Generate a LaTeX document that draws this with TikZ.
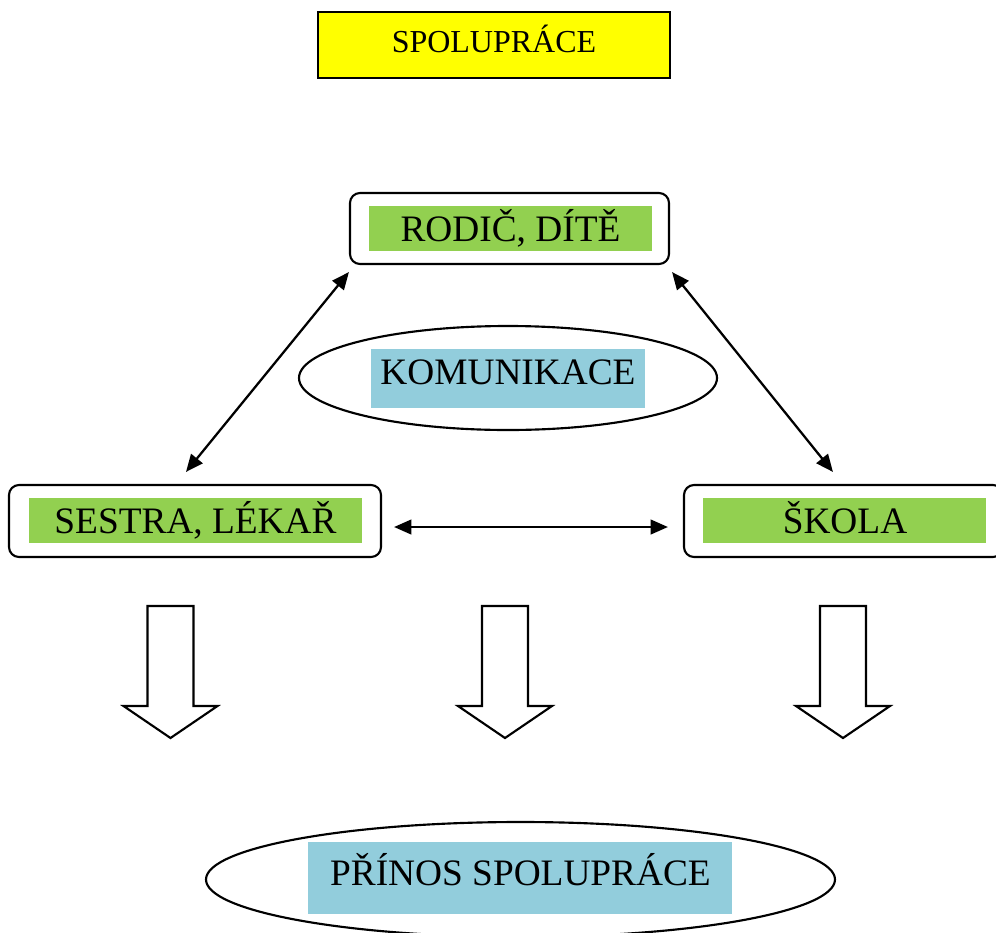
\documentclass[tikz,border=0pt]{standalone}
\usepackage{fontspec}
\setmainfont{Liberation Serif}
\usetikzlibrary{fit,arrows.meta,calc}
\definecolor{titleyellow}{HTML}{FFFF00}
\definecolor{partgreen}{HTML}{92D050}
\definecolor{noteblue}{HTML}{92CDDC}
\begin{document}
\begin{tikzpicture}[x=0.75pt,y=-0.75pt,
  frame/.style={draw=black,line width=1.6pt,rounded corners=7.5pt,inner sep=0pt,fit={#1}},
  lbl/.style={anchor=base,inner sep=0pt,font=\fontsize{28}{32}\selectfont},
  link/.style={line width=1.7pt,{Triangle[length=13pt,width=11pt]}-{Triangle[length=13pt,width=11pt]}},
  bigarrow/.style={draw=black,line width=1.6pt,fill=white,line join=miter}]
\useasboundingbox (0,0) rectangle (996,932);

% title
\node[draw=black,line width=1.6pt,fill=titleyellow,inner sep=0pt,fit={(318,12) (670,78)}] (title) {};
\node[anchor=base,inner sep=0pt,font=\fontsize{24}{28}\selectfont] (titletext) at (494,52) {SPOLUPRÁCE};

% participants
\node[frame={(350,193) (669,264)}] (rodic) {};
\node[fill=partgreen,inner sep=0pt,fit={(369,206) (652,251)}] (rodicfill) {};
\node[lbl] (rodictext) at (510.5,241) {RODIČ, DÍTĚ};

\node[frame={(9,485) (381,557)}] (sestra) {};
\node[fill=partgreen,inner sep=0pt,fit={(29,498) (362,543)}] (sestrafill) {};
\node[lbl] (sestratext) at (195.5,533) {SESTRA, LÉKAŘ};

\node[frame={(684,485) (1003,557)}] (skola) {};
\node[fill=partgreen,inner sep=0pt,fit={(703,498) (986,543)}] (skolafill) {};
\node[lbl] (skolatext) at (845,533) {ŠKOLA};

% communication
\draw[line width=1.6pt] (508,378) ellipse [x radius=209,y radius=52];
\node[fill=noteblue,inner sep=0pt,fit={(371,349) (645,408)}] (komfill) {};
\node[lbl] (komtext) at (508,384) {KOMUNIKACE};

% links between participants
\coordinate (rodicSW) at ($(rodic.south west)+(0,7)$);
\coordinate (rodicSE) at ($(rodic.south east)+(2,7)$);
\coordinate (sestraN) at ($(sestra.north)+(-9,-12)$);
\coordinate (sestraE) at ($(sestra.east)+(12,6)$);
\coordinate (skolaN) at ($(skola.north west)+(150,-12)$);
\coordinate (skolaW) at ($(skola.west)+(-15,6)$);
\draw[link] (sestraN) -- (rodicSW);
\draw[link] (rodicSE) -- (skolaN);
\draw[link] (sestraE) -- (skolaW);

% block arrows down
\foreach \cx in {170.5,505,843}{
  \draw[bigarrow] (\cx-23,606) -- (\cx+23,606) -- (\cx+23,706) -- (\cx+47,706)
    -- (\cx,738) -- (\cx-47,706) -- (\cx-23,706) -- cycle;
}

% outcome
\draw[line width=1.6pt] (520.5,879.5) ellipse [x radius=314.5,y radius=57.5];
\node[fill=noteblue,inner sep=0pt,fit={(308,842) (732,914)}] (prinosfill) {};
\node[lbl] (prinostext) at (520.5,885) {PŘÍNOS SPOLUPRÁCE};
\end{tikzpicture}
\end{document}
